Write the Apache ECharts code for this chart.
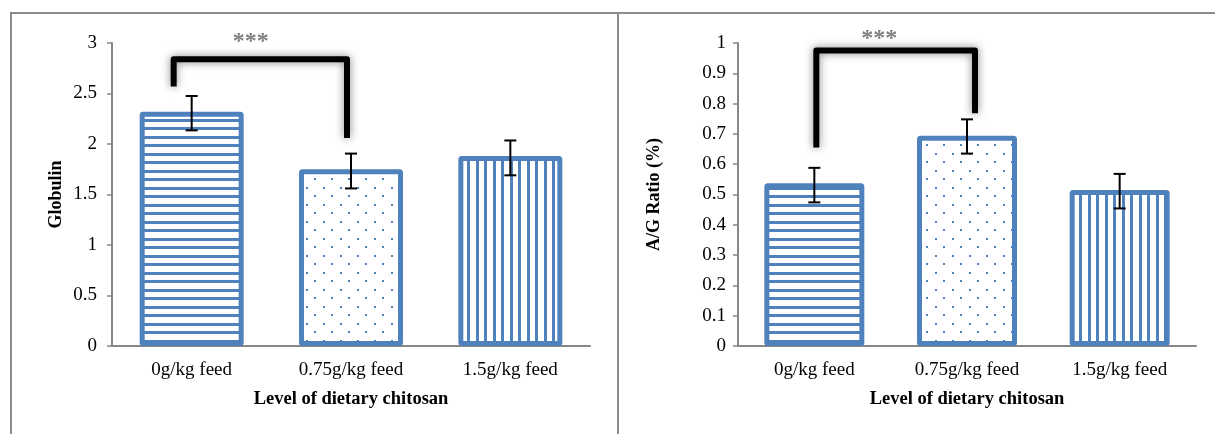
<!DOCTYPE html>
<html><head><meta charset="utf-8">
<script src="https://cdn.jsdelivr.net/npm/echarts@6/dist/echarts.min.js"></script>
<style>html,body{margin:0;padding:0;background:#fff}#c{width:1215px;height:434px}</style>
</head><body><div id="c"></div>
<script>
// ---- data ----
const categories = ['0g/kg feed', '0.75g/kg feed', '1.5g/kg feed'];
const globulin = [2.32, 1.75, 1.88];
const globulinLow = [2.135, 1.56, 1.69];
const globulinHigh = [2.475, 1.905, 2.035];
const agRatio = [0.537, 0.694, 0.515];
const agLow = [0.474, 0.635, 0.454];
const agHigh = [0.588, 0.748, 0.568];
const globulinTicks = { min: 0, max: 3, interval: 0.5 };
const agTicks = { min: 0, max: 1, interval: 0.1 };
// significance brackets: [fromCat, toCat, barLevel, leftEndLevel, rightEndLevel, starsLevel]
const globulinSig = [[0, 1, 2.84, 2.57, 2.06, 3.01]];
const agSig = [[0, 1, 0.975, 0.655, 0.768, 1.013]];
const sigText = '***';
const xTitle = 'Level of dietary chitosan';
const yTitleLeft = 'Globulin';
const yTitleRight = 'A/G Ratio (%)';

// ---- styles ----
const BLUE = '#4F81BD';
const FONT = '"Liberation Serif", "Times New Roman", serif';
const AXIS_GRAY = '#878787';

function makePattern(kind) {
  const c = document.createElement('canvas');
  c.width = 17; c.height = 17;
  const g = c.getContext('2d');
  g.fillStyle = '#fff'; g.fillRect(0, 0, 17, 17);
  g.fillStyle = BLUE;
  if (kind === 'h') { g.fillRect(0, 0, 17, 3); g.fillRect(0, 8, 17, 3); }
  else if (kind === 'v') { g.fillRect(0, 0, 3, 17); g.fillRect(8, 0, 3, 17); }
  else { g.fillRect(0, 0, 2, 2); g.fillRect(8, 8, 2, 2); }
  return { image: c, repeat: 'repeat' };
}
const patterns = [makePattern('h'), makePattern('d'), makePattern('v')];

function errorItem(params, api) {
  const x = api.value(0);
  const lo = api.coord([x, api.value(1)]);
  const hi = api.coord([x, api.value(2)]);
  const w = 6;
  const st = { stroke: '#000', lineWidth: 2 };
  return { type: 'group', children: [
    { type: 'line', shape: { x1: lo[0], y1: lo[1], x2: hi[0], y2: hi[1] }, style: st },
    { type: 'line', shape: { x1: lo[0] - w, y1: lo[1], x2: lo[0] + w, y2: lo[1] }, style: st },
    { type: 'line', shape: { x1: hi[0] - w, y1: hi[1], x2: hi[0] + w, y2: hi[1] }, style: st }
  ]};
}

function bracketItem(off) {
  return function (params, api) {
    const a = api.value(0), b = api.value(1);
    const pa = api.coord([a, api.value(2)]);
    const pb = api.coord([b, api.value(2)]);
    const la = api.coord([a, api.value(3)]);
    const rb = api.coord([b, api.value(4)]);
    const sy = api.coord([a, api.value(5)])[1];
    const xl = pa[0] + off.left, xr = pb[0] + off.right;
    const sx = xl + (xr - xl) * off.star;
    return { type: 'group', children: [
      { type: 'polyline', shape: { points: [[xl, la[1]], [xl, pa[1]], [xr, pa[1]], [xr, rb[1]]] },
        style: { stroke: '#000', lineWidth: 6, fill: null, lineJoin: 'round',
                 shadowBlur: 9, shadowColor: 'rgba(0,0,0,0.5)' } },
      { type: 'text', x: sx, y: sy,
        style: { text: sigText, fill: '#7f7f7f', font: 'bold 24px ' + FONT, align: 'center', verticalAlign: 'middle' } }
    ]};
  };
}

function xAxisCfg(gi) {
  return {
    type: 'category', gridIndex: gi, data: categories,
    axisLine: { lineStyle: { color: AXIS_GRAY, width: 2 } },
    axisTick: { show: false },
    axisLabel: { fontSize: 19, fontFamily: FONT, color: '#000', margin: 15 },
    name: xTitle, nameLocation: 'middle', nameGap: 44,
    nameTextStyle: { fontSize: 18.5, fontFamily: FONT, fontWeight: 'bold', color: '#000' }
  };
}
function yAxisCfg(gi, ticks, name, gap, margin) {
  return {
    type: 'value', gridIndex: gi, min: ticks.min, max: ticks.max, interval: ticks.interval,
    axisLine: { show: true, lineStyle: { color: AXIS_GRAY, width: 2 } },
    axisTick: { show: true, length: 5, lineStyle: { color: AXIS_GRAY, width: 1.5 } },
    splitLine: { show: false },
    axisLabel: { fontSize: 19, fontFamily: FONT, color: '#000', margin: margin },
    name: name, nameLocation: 'middle', nameGap: gap, nameRotate: 90,
    nameTextStyle: { fontSize: 18, fontFamily: FONT, fontWeight: 'bold', color: '#000' }
  };
}
function barData(vals) {
  return vals.map((v, i) => ({ value: v, itemStyle: { color: patterns[i] } }));
}
function errData(lo, hi) { return lo.map((l, i) => [i, l, hi[i]]); }

const chart = echarts.init(document.getElementById('c'), null, { renderer: 'canvas' });
chart.setOption({
  animation: false,
  backgroundColor: '#fff',
  grid: [
    { left: 112, top: 43, width: 478, height: 303 },
    { left: 738, top: 43, width: 458, height: 303 }
  ],
  xAxis: [xAxisCfg(0), xAxisCfg(1)],
  yAxis: [yAxisCfg(0, globulinTicks, yTitleLeft, 47, 15), yAxisCfg(1, agTicks, yTitleRight, 75, 12)],
  graphic: [
    { type: 'line', shape: { x1: 10, y1: 13, x2: 1215, y2: 13 }, style: { stroke: '#8c8c8c', lineWidth: 2 } },
    { type: 'line', shape: { x1: 11, y1: 13, x2: 11, y2: 434 }, style: { stroke: '#8c8c8c', lineWidth: 2 } },
    { type: 'line', shape: { x1: 618, y1: 13, x2: 618, y2: 434 }, style: { stroke: '#8c8c8c', lineWidth: 2 } }
  ],
  series: [
    { type: 'bar', xAxisIndex: 0, yAxisIndex: 0, barWidth: 104, data: barData(globulin),
      itemStyle: { borderColor: BLUE, borderWidth: 5, borderRadius: 1 } },
    { type: 'bar', xAxisIndex: 1, yAxisIndex: 1, barWidth: 100, data: barData(agRatio),
      itemStyle: { borderColor: BLUE, borderWidth: 5, borderRadius: 1 } },
    { type: 'custom', xAxisIndex: 0, yAxisIndex: 0, data: errData(globulinLow, globulinHigh),
      encode: { x: 0, y: [1, 2] }, renderItem: errorItem, z: 5 },
    { type: 'custom', xAxisIndex: 1, yAxisIndex: 1, data: errData(agLow, agHigh),
      encode: { x: 0, y: [1, 2] }, renderItem: errorItem, z: 5 },
    { type: 'custom', xAxisIndex: 0, yAxisIndex: 0, data: globulinSig,
      encode: { x: 0, y: 2 }, renderItem: bracketItem({ left: -18, right: -4, star: 0.445 }), z: 6 },
    { type: 'custom', xAxisIndex: 1, yAxisIndex: 1, data: agSig,
      encode: { x: 0, y: 2 }, renderItem: bracketItem({ left: 2, right: 8, star: 0.396 }), z: 6 }
  ]
});
</script>
</body></html>
